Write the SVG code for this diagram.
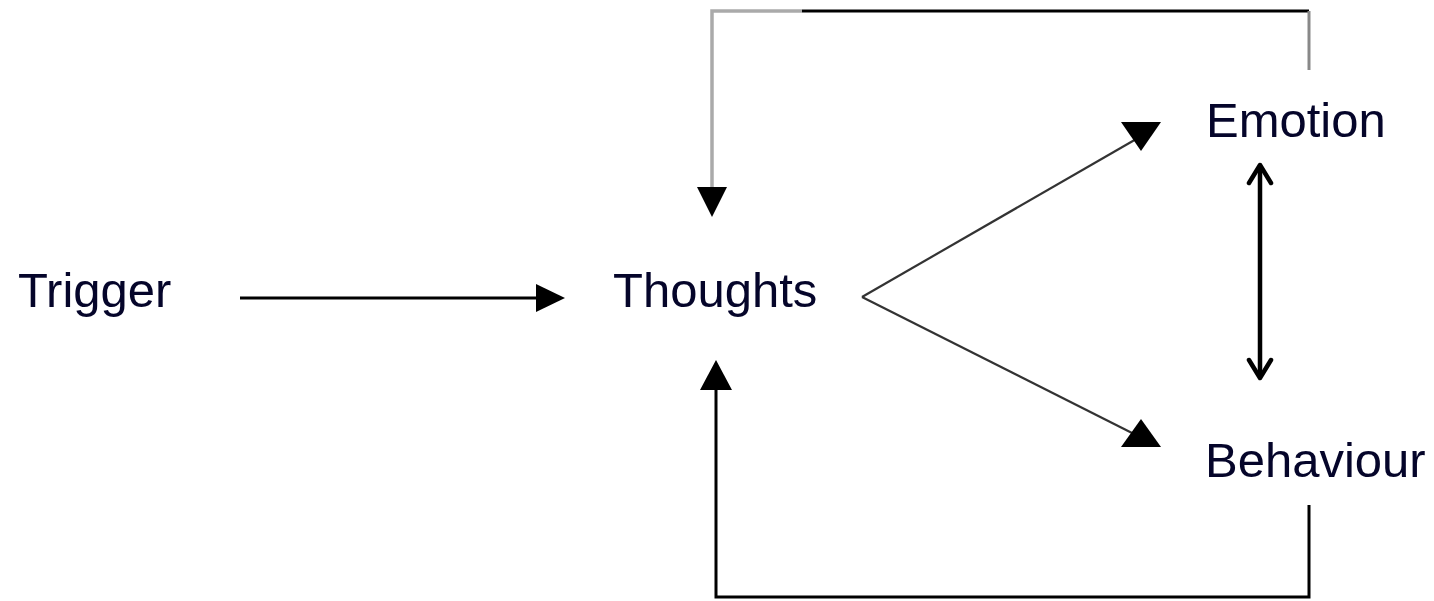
<svg xmlns="http://www.w3.org/2000/svg" width="1434" height="601" viewBox="0 0 1434 601">
<style>
.lbl{font-family:"Liberation Sans",Arial,sans-serif;font-size:49px;fill:#05052a}
.ln{fill:none;stroke:#000;stroke-width:3}
.diag{fill:none;stroke:#333;stroke-width:2.2}
.head{fill:#000}
.chev{fill:none;stroke:#000;stroke-width:4.5;stroke-linecap:round;stroke-linejoin:round}
</style>
<g id="connectors">
<!-- Trigger -> Thoughts -->
<line class="ln" x1="240" y1="298" x2="540" y2="298"/>
<polygon class="head" points="536,284 565,298 536,312"/>
<!-- Thoughts -> Emotion -->
<line class="diag" x1="862" y1="297" x2="1138" y2="138"/>
<polygon class="head" points="1121,122 1161,122 1141,151"/>
<!-- Thoughts -> Behaviour -->
<line class="diag" x1="862" y1="297" x2="1138" y2="436"/>
<polygon class="head" points="1121,447 1161,447 1141,419"/>
<!-- Emotion <-> Behaviour -->
<line x1="1260" y1="166" x2="1260" y2="377" stroke="#000" stroke-width="4.5"/>
<polyline class="chev" points="1249,183 1260,165 1271,183"/>
<polyline class="chev" points="1249,360 1260,378 1271,360"/>
<!-- Emotion -> Thoughts (top loop) -->
<polyline fill="none" stroke="#000" stroke-width="3" points="802,11 1309,11"/>
<polyline fill="none" stroke="#aaa" stroke-width="3.5" points="802,11 712,11 712,190"/>
<line x1="1309" y1="11" x2="1309" y2="70" stroke="#888" stroke-width="3"/>
<polygon class="head" points="697,187 727,187 712,217"/>
<!-- Behaviour -> Thoughts (bottom loop) -->
<polyline class="ln" points="1309,505 1309,597 716,597 716,388"/>
<polygon class="head" points="700,390 732,390 716,360"/>
</g>
<g id="trigger"><text class="lbl" x="18" y="307">Trigger</text></g>
<g id="thoughts"><text class="lbl" x="613" y="307">Thoughts</text></g>
<g id="emotion"><text class="lbl" x="1206" y="137">Emotion</text></g>
<g id="behaviour"><text class="lbl" x="1205" y="477">Behaviour</text></g>
</svg>
